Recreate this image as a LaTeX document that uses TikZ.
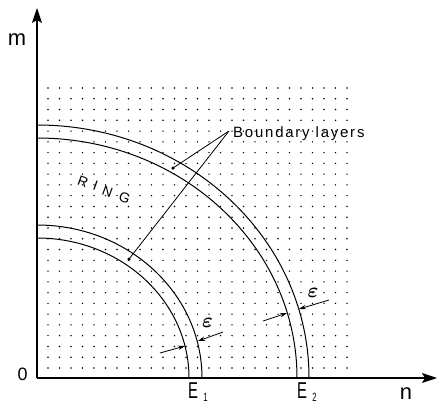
\documentclass[tikz,border=0pt]{standalone}
\usepackage{fontspec}
\setmainfont{Liberation Sans}
\newfontfamily\spacedfont[LetterSpace=12]{Liberation Sans}
\usepackage{amsmath}
\usetikzlibrary{arrows.meta, positioning, calc}

\begin{document}
\begin{tikzpicture}[
		x=1bp, y=1bp,
		axis/.style={line width=1.1bp, -{Stealth[length=15bp, width=10bp, inset=3bp]}},
		layer/.style={line width=1bp},
		gapmark/.style={line width=0.8bp, -{Stealth[length=7bp, width=4.5bp]}},
		leader/.style={line width=0.8bp},
		markdot/.style={fill, circle, inner sep=0pt, minimum size=3.5bp},
		axislabel/.style={font=\fontsize{22}{22}\selectfont, inner sep=0pt, anchor=base},
		elabel/.style={font=\fontsize{23}{23}\selectfont, inner sep=0pt, xscale=0.65, transform shape, anchor=base west},
		epslabel/.style={font=\fontsize{20}{20}\selectfont, inner sep=0pt},
		ringletter/.style={font=\fontsize{14}{14}\selectfont, inner sep=0pt, rotate=-20}
		]
		\useasboundingbox (-37,-26) rectangle (401,378);
		
		% Dot grid
		\foreach \i in {0,...,26}
		\foreach \j in {0,...,26}
		\fill ({11+11.5*\i},{10+10.77*\j}) circle (0.8bp);
		
		% Inner ring E1
		\draw[layer] (0,140) arc[start angle=90, end angle=0, x radius=152, y radius=140];
		\draw[layer] (0,153) arc[start angle=90, end angle=0, x radius=165, y radius=153];
		
		% Outer ring E2
		\draw[layer] (0,240) arc[start angle=90, end angle=0, x radius=260, y radius=240];
		\draw[layer] (0,253) arc[start angle=90, end angle=0, x radius=272, y radius=253];
		
		% Axes
		\coordinate (O) at (0,0);
		\coordinate (mtip) at (0,370);
		\coordinate (ntip) at (400,0);
		\draw[axis] (O) -- (mtip);
		\draw[axis] (O) -- (ntip);
		
		% Axis labels
		\node[axislabel] (mlab) at (-20,333) {m};
		\node[axislabel] (nlab) at (369,-21) {n};
		\node[font=\fontsize{18}{18}\selectfont, inner sep=0pt, anchor=base] (olab) at (-14.5,-2) {0};
		\node[elabel] (e1) at (151,-20) {E\hspace{8bp}\raisebox{-3bp}{\fontsize{12}{12}\selectfont 1}};
		\node[elabel] (e2) at (260,-20) {E\hspace{8bp}\raisebox{-3bp}{\fontsize{12}{12}\selectfont 2}};
		
		% RING
		\foreach \ch/\px/\py in {R/46/196, I/58.5/192, N/70.5/186, G/87.5/180}
		\node[ringletter] (ring\ch) at (\px,\py) {\ch};
		
		% Boundary layers
		\node[font=\spacedfont\fontsize{15}{15}\selectfont, inner sep=0pt, anchor=base west] (bl) at (196,241) {Boundary layers};
		\coordinate (blpt) at (192,247);
		\node[markdot] (d1) at (136,210) {};
		\node[markdot] (d2) at (92,119) {};
		\draw[leader] (blpt) -- (d1.center);
		\draw[leader] (blpt) -- (d2.center);
		
		% Layer width, inner ring
		\coordinate (ia) at (123,25);
		\coordinate (iat) at (148,32);
		\coordinate (ib) at (186,46);
		\coordinate (ibt) at (161,37);
		\draw[gapmark] (ia) -- (iat);
		\draw[gapmark] (ib) -- (ibt);
		\node[epslabel] (eps1) at (170.5,55) {$\boldsymbol{\varepsilon}$};
		
		% Layer width, outer ring
		\coordinate (oa) at (226,57);
		\coordinate (oat) at (250,65);
		\coordinate (ob) at (292,78);
		\coordinate (obt) at (262,69);
		\draw[gapmark] (oa) -- (oat);
		\draw[gapmark] (ob) -- (obt);
		\node[epslabel] (eps2) at (276,85) {$\boldsymbol{\varepsilon}$};
		
	\end{tikzpicture}
\end{document}
